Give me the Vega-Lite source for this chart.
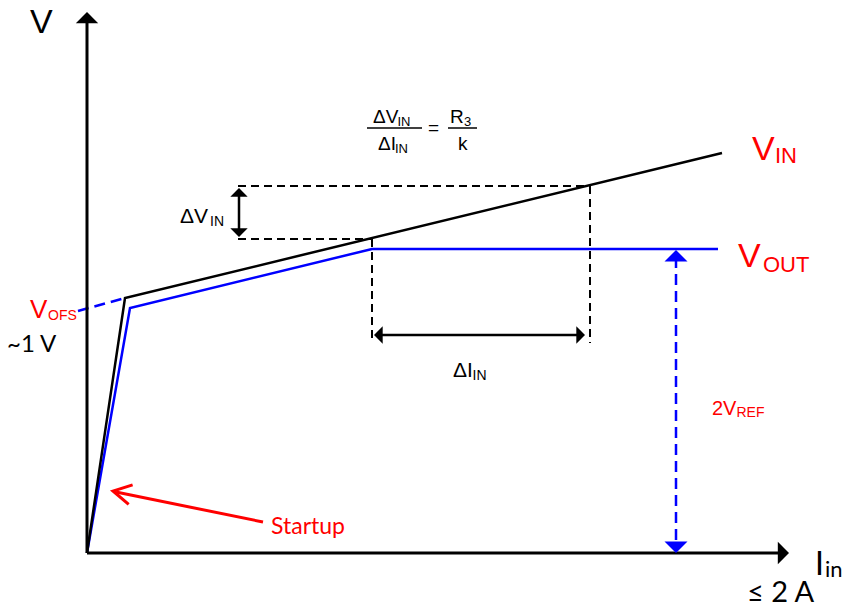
{
  "$schema": "https://vega.github.io/schema/vega-lite/v6.json",
  "description": "Input/output voltage versus input current: VIN rises with slope R3/k, VOUT is held at 2VREF.",
  "width": 842,
  "height": 608,
  "padding": 0,
  "autosize": {"type": "none"},
  "background": "white",
  "config": {"view": {"stroke": null}},
  "datasets": {
    "traces": [
      {"trace": "y axis", "x": 0, "y": 0},
      {"trace": "y axis", "x": 0, "y": 53.3},
      {"trace": "x axis", "x": 0, "y": 0},
      {"trace": "x axis", "x": 69.6, "y": 0},
      {"trace": "VIN", "x": 0, "y": 0},
      {"trace": "VIN", "x": 3.8, "y": 25.5},
      {"trace": "VIN", "x": 63.5, "y": 40.0},
      {"trace": "VOUT", "x": 0, "y": 0},
      {"trace": "VOUT", "x": 4.3, "y": 24.5},
      {"trace": "VOUT", "x": 28.5, "y": 30.4},
      {"trace": "VOUT", "x": 63.1, "y": 30.4},
      {"trace": "VOFS extrapolation", "x": -0.9, "y": 24.2},
      {"trace": "VOFS extrapolation", "x": 3.8, "y": 25.5},
      {"trace": "2VREF span", "x": 58.9, "y": 29.6},
      {"trace": "2VREF span", "x": 58.9, "y": 0.6},
      {"trace": "upper guide", "x": 15.1, "y": 36.7},
      {"trace": "upper guide", "x": 50.3, "y": 36.7},
      {"trace": "lower guide", "x": 15.1, "y": 31.4},
      {"trace": "lower guide", "x": 28.5, "y": 31.4},
      {"trace": "left drop", "x": 28.5, "y": 31.4},
      {"trace": "left drop", "x": 28.5, "y": 21.0},
      {"trace": "right drop", "x": 50.3, "y": 36.7},
      {"trace": "right drop", "x": 50.3, "y": 21.0},
      {"trace": "ΔV span", "x": 15.2, "y": 36.1},
      {"trace": "ΔV span", "x": 15.2, "y": 32.0},
      {"trace": "ΔI span", "x": 29.2, "y": 21.8},
      {"trace": "ΔI span", "x": 49.3, "y": 21.8},
      {"trace": "ratio bar", "x": 28.0, "y": 42.5},
      {"trace": "ratio bar", "x": 33.5, "y": 42.5},
      {"trace": "gain bar", "x": 36.1, "y": 42.5},
      {"trace": "gain bar", "x": 39.0, "y": 42.5},
      {"trace": "startup pointer", "x": 2.9, "y": 6.1},
      {"trace": "startup pointer", "x": 17.6, "y": 3.1}
    ],
    "heads": [
      {"head": "y axis", "x": 0, "y": 54.1, "dir": "up"},
      {"head": "x axis", "x": 70.2, "y": 0, "dir": "right"},
      {"head": "ΔV span", "x": 15.2, "y": 36.5, "dir": "up"},
      {"head": "ΔV span", "x": 15.2, "y": 31.6, "dir": "down"},
      {"head": "ΔI span", "x": 28.7, "y": 21.8, "dir": "left"},
      {"head": "ΔI span", "x": 49.8, "y": 21.8, "dir": "right"},
      {"head": "2VREF span", "x": 58.9, "y": 30.3, "dir": "up"},
      {"head": "2VREF span", "x": 58.9, "y": 0, "dir": "down"},
      {"head": "startup pointer", "x": 2.6, "y": 6.2, "dir": "left"}
    ],
    "labels": [
      {"role": "V axis", "text": "V", "x": -5.7, "y": 52.0},
      {"role": "formula", "text": "ΔV", "x": 28.6, "y": 43.0},
      {"role": "formula sub", "text": "IN", "x": 31.05, "y": 42.7},
      {"role": "formula", "text": "ΔI", "x": 29.1, "y": 40.3},
      {"role": "formula sub", "text": "IN", "x": 30.8, "y": 40.0},
      {"role": "formula", "text": "=", "x": 34.1, "y": 41.9},
      {"role": "formula", "text": "R", "x": 36.3, "y": 43.0},
      {"role": "formula sub", "text": "3", "x": 37.7, "y": 42.7},
      {"role": "formula", "text": "k", "x": 37.1, "y": 40.3},
      {"role": "span", "text": "ΔV", "x": 9.3, "y": 33.0},
      {"role": "span sub", "text": "IN", "x": 12.3, "y": 32.7},
      {"role": "span", "text": "ΔI", "x": 36.6, "y": 17.6},
      {"role": "span sub", "text": "IN", "x": 38.55, "y": 17.3},
      {"role": "curve", "text": "V", "x": 66.5, "y": 39.3},
      {"role": "curve sub", "text": "IN", "x": 68.8, "y": 39.0},
      {"role": "curve", "text": "V", "x": 65.1, "y": 28.6},
      {"role": "curve sub", "text": "OUT", "x": 67.6, "y": 28.1},
      {"role": "offset", "text": "V", "x": -5.7, "y": 23.5},
      {"role": "offset sub", "text": "OFS", "x": -3.9, "y": 23.3},
      {"role": "offset value", "text": "~1 V", "x": -8.0, "y": 20.1},
      {"role": "reference", "text": "2V", "x": 62.5, "y": 13.8},
      {"role": "reference sub", "text": "REF", "x": 64.95, "y": 13.6},
      {"role": "I axis", "text": "I", "x": 72.8, "y": -2.2},
      {"role": "I axis sub", "text": "in", "x": 73.8, "y": -2.4},
      {"role": "I axis limit", "text": "≤ 2 A", "x": 66.0, "y": -4.9},
      {"role": "startup", "text": "Startup", "x": 18.4, "y": 1.9}
    ]
  },
  "encoding": {
    "x": {"field": "x", "type": "quantitative", "axis": null,
          "scale": {"domain": [-8.7, 75.5], "nice": false, "zero": false}},
    "y": {"field": "y", "type": "quantitative", "axis": null,
          "scale": {"domain": [-5.5, 55.3], "nice": false, "zero": false}}
  },
  "layer": [
    {
      "data": {"name": "traces"},
      "transform": [{"filter": {"field": "trace", "oneOf": ["upper guide", "lower guide", "left drop", "right drop"]}}],
      "mark": {"type": "line", "color": "black", "strokeWidth": 2, "strokeDash": [8, 5]},
      "encoding": {"detail": {"field": "trace"}}
    },
    {
      "data": {"name": "traces"},
      "transform": [{"filter": {"field": "trace", "oneOf": ["VOFS extrapolation", "2VREF span"]}}],
      "mark": {"type": "line", "color": "#0000ff", "strokeWidth": 2.5, "strokeDash": [11, 6]},
      "encoding": {"detail": {"field": "trace"}}
    },
    {
      "data": {"name": "traces"},
      "transform": [{"filter": {"field": "trace", "equal": "VOUT"}}],
      "mark": {"type": "line", "color": "#0000ff", "strokeWidth": 2.5},
      "encoding": {}
    },
    {
      "data": {"name": "traces"},
      "transform": [{"filter": {"field": "trace", "oneOf": ["VIN", "ΔV span", "ΔI span"]}}],
      "mark": {"type": "line", "color": "black", "strokeWidth": 2.5},
      "encoding": {"detail": {"field": "trace"}}
    },
    {
      "data": {"name": "traces"},
      "transform": [{"filter": {"field": "trace", "oneOf": ["ratio bar", "gain bar"]}}],
      "mark": {"type": "line", "color": "black", "strokeWidth": 1.5},
      "encoding": {"detail": {"field": "trace"}}
    },
    {
      "data": {"name": "traces"},
      "transform": [{"filter": {"field": "trace", "oneOf": ["y axis", "x axis"]}}],
      "mark": {"type": "line", "color": "black", "strokeWidth": 3},
      "encoding": {"detail": {"field": "trace"}}
    },
    {
      "data": {"name": "traces"},
      "transform": [{"filter": {"field": "trace", "equal": "startup pointer"}}],
      "mark": {"type": "line", "color": "#ff0000", "strokeWidth": 3},
      "encoding": {}
    },
    {
      "data": {"name": "heads"},
      "transform": [{"filter": {"field": "head", "oneOf": ["y axis", "x axis"]}}],
      "mark": {"type": "point", "filled": true, "color": "black", "opacity": 1,
               "shape": "M0,0L-1,1L1,1Z", "size": 500},
      "encoding": {"angle": {"field": "dir", "type": "nominal", "legend": null,
                   "scale": {"type": "ordinal", "domain": ["up", "right", "down", "left"], "range": [0, 90, 180, 270]}}}
    },
    {
      "data": {"name": "heads"},
      "transform": [{"filter": {"field": "head", "oneOf": ["ΔV span", "ΔI span"]}}],
      "mark": {"type": "point", "filled": true, "color": "black", "opacity": 1,
               "shape": "M0,0L-1,1L1,1Z", "size": 300},
      "encoding": {"angle": {"field": "dir", "type": "nominal", "legend": null,
                   "scale": {"type": "ordinal", "domain": ["up", "right", "down", "left"], "range": [0, 90, 180, 270]}}}
    },
    {
      "data": {"name": "heads"},
      "transform": [{"filter": {"field": "head", "equal": "2VREF span"}}],
      "mark": {"type": "point", "filled": true, "color": "#0000ff", "opacity": 1,
               "shape": "M0,0L-1,1L1,1Z", "size": 530},
      "encoding": {"angle": {"field": "dir", "type": "nominal", "legend": null,
                   "scale": {"type": "ordinal", "domain": ["up", "right", "down", "left"], "range": [0, 90, 180, 270]}}}
    },
    {
      "data": {"name": "heads"},
      "transform": [{"filter": {"field": "head", "equal": "startup pointer"}}],
      "mark": {"type": "point", "filled": false, "color": "#ff0000", "opacity": 1, "strokeWidth": 3,
               "shape": "M-1,-0.55L0,0L-1,0.55", "size": 1296, "angle": 191.5},
      "encoding": {}
    },
    {
      "data": {"name": "labels"},
      "transform": [{"filter": {"field": "role", "equal": "V axis"}}],
      "mark": {"type": "text", "align": "left", "baseline": "alphabetic", "font": "Liberation Sans", "fontSize": 34, "color": "black"},
      "encoding": {"text": {"field": "text"}}
    },
    {
      "data": {"name": "labels"},
      "transform": [{"filter": {"field": "role", "equal": "formula"}}],
      "mark": {"type": "text", "align": "left", "baseline": "alphabetic", "font": "Liberation Sans", "fontSize": 19, "color": "black"},
      "encoding": {"text": {"field": "text"}}
    },
    {
      "data": {"name": "labels"},
      "transform": [{"filter": {"field": "role", "equal": "formula sub"}}],
      "mark": {"type": "text", "align": "left", "baseline": "alphabetic", "font": "Liberation Sans", "fontSize": 13, "color": "black"},
      "encoding": {"text": {"field": "text"}}
    },
    {
      "data": {"name": "labels"},
      "transform": [{"filter": {"field": "role", "equal": "span"}}],
      "mark": {"type": "text", "align": "left", "baseline": "alphabetic", "font": "Liberation Sans", "fontSize": 21, "color": "black"},
      "encoding": {"text": {"field": "text"}}
    },
    {
      "data": {"name": "labels"},
      "transform": [{"filter": {"field": "role", "equal": "span sub"}}],
      "mark": {"type": "text", "align": "left", "baseline": "alphabetic", "font": "Liberation Sans", "fontSize": 14, "color": "black"},
      "encoding": {"text": {"field": "text"}}
    },
    {
      "data": {"name": "labels"},
      "transform": [{"filter": {"field": "role", "equal": "curve"}}],
      "mark": {"type": "text", "align": "left", "baseline": "alphabetic", "font": "Liberation Sans", "fontSize": 34, "color": "#ff0000"},
      "encoding": {"text": {"field": "text"}}
    },
    {
      "data": {"name": "labels"},
      "transform": [{"filter": {"field": "role", "equal": "curve sub"}}],
      "mark": {"type": "text", "align": "left", "baseline": "alphabetic", "font": "Liberation Sans", "fontSize": 22, "color": "#ff0000"},
      "encoding": {"text": {"field": "text"}}
    },
    {
      "data": {"name": "labels"},
      "transform": [{"filter": {"field": "role", "equal": "offset"}}],
      "mark": {"type": "text", "align": "left", "baseline": "alphabetic", "font": "Liberation Sans", "fontSize": 26, "color": "#ff0000"},
      "encoding": {"text": {"field": "text"}}
    },
    {
      "data": {"name": "labels"},
      "transform": [{"filter": {"field": "role", "oneOf": ["offset sub", "reference sub"]}}],
      "mark": {"type": "text", "align": "left", "baseline": "alphabetic", "font": "Liberation Sans", "fontSize": 14, "color": "#ff0000"},
      "encoding": {"text": {"field": "text"}}
    },
    {
      "data": {"name": "labels"},
      "transform": [{"filter": {"field": "role", "equal": "reference"}}],
      "mark": {"type": "text", "align": "left", "baseline": "alphabetic", "font": "Liberation Sans", "fontSize": 20, "color": "#ff0000"},
      "encoding": {"text": {"field": "text"}}
    },
    {
      "data": {"name": "labels"},
      "transform": [{"filter": {"field": "role", "equal": "offset value"}}],
      "mark": {"type": "text", "align": "left", "baseline": "alphabetic", "font": "Lato", "fontSize": 24, "color": "black"},
      "encoding": {"text": {"field": "text"}}
    },
    {
      "data": {"name": "labels"},
      "transform": [{"filter": {"field": "role", "equal": "I axis"}}],
      "mark": {"type": "text", "align": "left", "baseline": "alphabetic", "font": "Lato", "fontSize": 32, "color": "black"},
      "encoding": {"text": {"field": "text"}}
    },
    {
      "data": {"name": "labels"},
      "transform": [{"filter": {"field": "role", "equal": "I axis sub"}}],
      "mark": {"type": "text", "align": "left", "baseline": "alphabetic", "font": "Lato", "fontSize": 22, "color": "black"},
      "encoding": {"text": {"field": "text"}}
    },
    {
      "data": {"name": "labels"},
      "transform": [{"filter": {"field": "role", "equal": "I axis limit"}}],
      "mark": {"type": "text", "align": "left", "baseline": "alphabetic", "font": "Lato, DejaVu Sans", "fontSize": 29, "color": "black"},
      "encoding": {"text": {"field": "text"}}
    },
    {
      "data": {"name": "labels"},
      "transform": [{"filter": {"field": "role", "equal": "startup"}}],
      "mark": {"type": "text", "align": "left", "baseline": "alphabetic", "font": "Lato", "fontSize": 23, "color": "#ff0000"},
      "encoding": {"text": {"field": "text"}}
    }
  ]
}
